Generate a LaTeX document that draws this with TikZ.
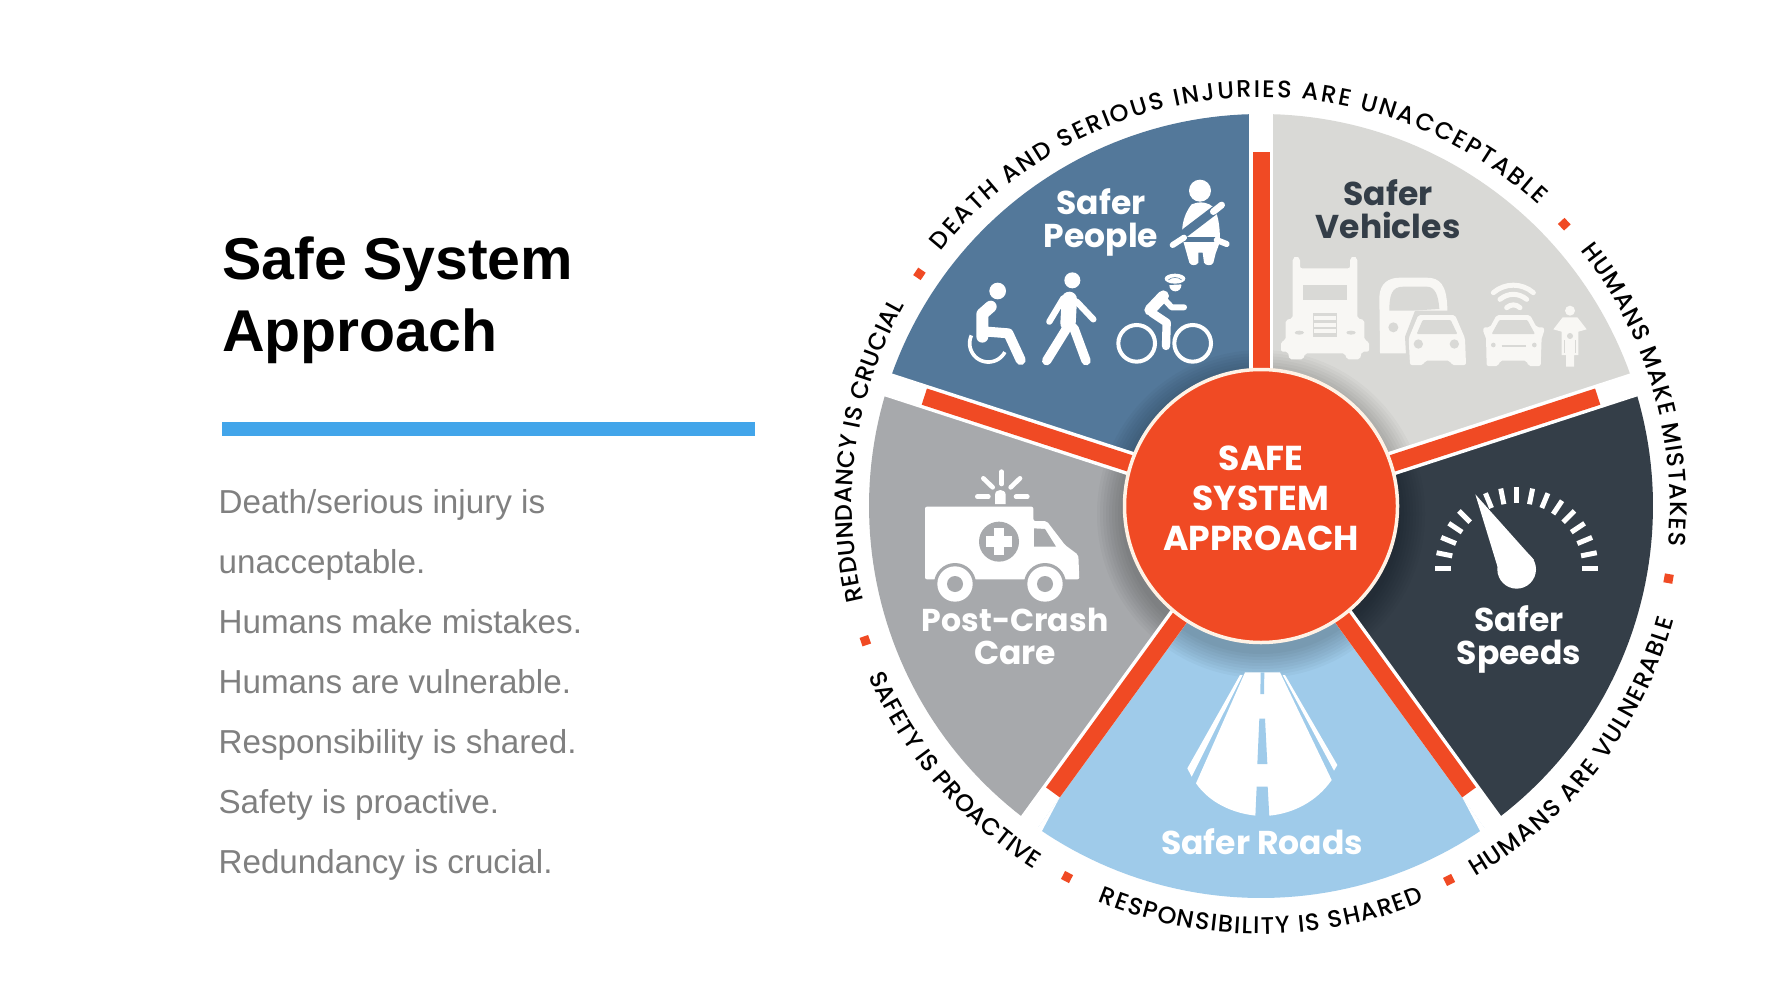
\documentclass[tikz,border=0pt]{standalone}
\usepackage{fontspec}
\setmainfont{Liberation Sans}
\newfontfamily\popb{Poppins}[UprightFont=* Bold]
\newfontfamily\popm{Poppins}[UprightFont=* Medium]
\usetikzlibrary{decorations.text}
\definecolor{cBlue}{HTML}{53789A}
\definecolor{cVeh}{HTML}{D9D9D6}
\definecolor{cGray}{HTML}{A7A9AC}
\definecolor{cDark}{HTML}{343E48}
\definecolor{cRoad}{HTML}{9FCBEA}
\definecolor{cRed}{HTML}{F04A24}
\definecolor{cBar}{HTML}{42A5EA}
\definecolor{cBody}{HTML}{808080}
\definecolor{cIco}{HTML}{F8F7F4}
\tikzset{
  txt/.style={inner sep=0pt,anchor=base},
  title/.style={txt,anchor=base west,font=\bfseries\fontsize{59}{60}\selectfont,text=black},
  bodytxt/.style={txt,anchor=base west,font=\fontsize{33.2}{36}\selectfont,text=cBody},
  seglabel/.style={txt,font=\popb\fontsize{33}{36}\selectfont,text=white},
  hublabel/.style={txt,font=\popb\fontsize{34.6}{36}\selectfont,text=white},
  sqmark/.style={fill=cRed,inner sep=0pt,minimum size=9pt,rectangle},
  ln/.style={line width=#1/3*1pt,line cap=round,line join=round},
  flat/.style={line width=#1/3*1pt,line cap=butt},
}
\newcommand{\sector}[3]{\fill[#1] (0,0) -- plot[domain=#2:#3,samples=50] ({\x}:392) -- cycle;}
\newcommand{\arctext}[4]{\path[decorate,decoration={text along path,text={|\popm\fontsize{24}{25}\selectfont|#4},text align={fit to path}}] plot[domain=#1:#2,samples=90] ({\x}:#3);}
\begin{document}
\begin{tikzpicture}[x=1pt,y=-1pt]
\useasboundingbox (0,0) rectangle (1774,998);
\fill[white] (0,0) rectangle (1774,998);
% left column
\node[title] (t1) at (222,279) {Safe System};
\node[title] (t2) at (222,351) {Approach};
\fill[cBar] (222,422) rectangle (755,436);
\node[bodytxt] (b1) at (218.4,513) {Death/serious injury is};
\node[bodytxt] (b2) at (218.4,573) {unacceptable.};
\node[bodytxt] (b3) at (218.4,633) {Humans make mistakes.};
\node[bodytxt] (b4) at (218.4,693) {Humans are vulnerable.};
\node[bodytxt] (b5) at (218.4,753) {Responsibility is shared.};
\node[bodytxt] (b6) at (218.4,813) {Safety is proactive.};
\node[bodytxt] (b7) at (218.4,873) {Redundancy is crucial.};
% wheel
\begin{scope}[shift={(1261,506)}]
\sector{cBlue}{198}{270}
\sector{cVeh}{270}{342}
\sector{cDark}{-18}{54}
\sector{cRoad}{54}{126}
\sector{cGray}{126}{198}
\foreach \r in {164,161,...,140}{\fill[black,opacity=.028] (0,8) circle[radius=\r];}
% spokes
\foreach \a in {-90,-18,198}{
  \begin{scope}[rotate=-\a]
    \fill[white] (100,-12) rectangle (400,12);
    \fill[cRed] (100,-8.5) rectangle (354,8.5);
  \end{scope}}
\begin{scope}[rotate=-54]
  \fill[white] (100,-12) rectangle (400,8.5);
  \fill[white] (354,8.4) -- (400,15) -- (400,8.4) -- cycle;
  \fill[cRed] (100,-8.5) rectangle (354,8.5);
\end{scope}
\begin{scope}[rotate=-126]
  \fill[white] (100,-8.5) rectangle (400,12);
  \fill[white] (354,-8.4) -- (400,-15) -- (400,-8.4) -- cycle;
  \fill[cRed] (100,-8.5) rectangle (354,8.5);
\end{scope}
% hub
\filldraw[fill=cRed,draw=white!90!orange,line width=3.5pt] (0,0) circle[radius=136.5];
% ring texts
\arctext{218.5}{312.7}{409}{DEATH AND SERIOUS INJURIES ARE UNACCEPTABLE}
\arctext{321.3}{365.6}{409}{HUMANS MAKE MISTAKES}
\arctext{166.6}{209.4}{409}{REDUNDANCY IS CRUCIAL}
\arctext{60}{15.4}{428}{HUMANS ARE VULNERABLE}
\arctext{112.4}{67.5}{428}{RESPONSIBILITY IS SHARED}
\arctext{156.6}{122}{428}{SAFETY IS PROACTIVE}
\node[sqmark,rotate=-214.2] (m1) at (214.2:413) {};
\node[sqmark,rotate=42.9] (m2) at (-42.9:414) {};
\node[sqmark,rotate=-10.1] (m3) at (10.1:414) {};
\node[sqmark,rotate=-63.3] (m4) at (63.3:418.6) {};
\node[sqmark,rotate=-117.6] (m5) at (117.6:418.7) {};
\node[sqmark,rotate=-161.2] (m6) at (161.2:418) {};
\end{scope}
% labels
\node[seglabel] (sp1) at (1101,214) {Safer};
\node[seglabel] (sp2) at (1101,247) {People};
\node[seglabel,text=cDark] (sv1) at (1388,205) {Safer};
\node[seglabel,text=cDark] (sv2) at (1388,238) {Vehicles};
\node[seglabel,font=\popb\fontsize{31.6}{36}\selectfont] (pc1) at (1015,631) {Post-Crash};
\node[seglabel] (pc2) at (1015,664) {Care};
\node[seglabel] (ss1) at (1519,631) {Safer};
\node[seglabel] (ss2) at (1519,664) {Speeds};
\node[seglabel] (sr1) at (1262,854) {Safer Roads};
\node[hublabel] (h1) at (1261,470) {SAFE};
\node[hublabel] (h2) at (1261,510) {SYSTEM};
\node[hublabel] (h3) at (1261,550) {APPROACH};
% people icons
\begin{scope}[shift={(950,170)},scale=1/3]
\fill[white] (750,62) circle[radius=33];
\fill[white] (725,103) .. controls (745,95) and (760,95) .. (778,103) .. controls (805,115) and (810,170) .. (810,215) -- (797,250) -- (790,278) .. controls (788,288) and (765,288) .. (762,278) -- (758,248) -- (745,248) -- (745,278) .. controls (740,288) and (722,288) .. (718,278) -- (703,225) .. controls (690,190) and (695,140) .. (725,103) -- cycle;
\draw[cBlue,flat=26] (690,200) -- (795,120);
\draw[white,ln=20] (790,125) -- (815,105);
\draw[cBlue,flat=16] (700,208) -- (805,208);
\draw[white,ln=18] (668,225) -- (702,203);
\draw[white,ln=18] (800,210) -- (830,222);
% wheelchair
\fill[white] (143,363) circle[radius=25];
\draw[white,ln=36] (122,410) -- (97,432) -- (97,500);
\draw[white,ln=30] (112,485) -- (175,490) -- (212,570);
\draw[white,flat=11] plot[domain=28:205,samples=40] ({115+56*cos(\x)},{520+56*sin(\x)});
% walker
\fill[white] (367,331) circle[radius=24];
\draw[white,ln=46] (358,388) -- (354,460);
\draw[white,ln=19] (340,385) -- (298,455);
\draw[white,ln=19] (380,395) -- (430,448);
\draw[white,ln=28] (350,475) -- (290,572);
\draw[white,ln=28] (372,475) -- (408,572);
% cyclist
\draw[white,flat=12] (560,520) circle[radius=55];
\draw[white,flat=12] (728,520) circle[radius=55];
\fill[white] (676,346) circle[radius=18];
\draw[cBlue,flat=5] (642,343) -- (710,340);
\fill[white] (675,326) ellipse[x radius=31,y radius=15];
\draw[cBlue,line width=.5pt] (655,330) .. controls (665,320) and (685,320) .. (695,330);
\draw[white,ln=34] (640,378) -- (600,420);
\draw[white,ln=18] (640,385) -- (665,412) -- (702,412);
\draw[white,ln=25] (605,428) -- (650,458) -- (648,528);
\end{scope}
% vehicles
\begin{scope}[shift={(1270,240)},scale=1/3]
\fill[cIco,rounded corners=2pt] (68,140) -- (68,55) -- (79,48) -- (90,55) -- (90,85) -- (240,85) -- (240,55) -- (251,48) -- (262,55) -- (262,235) -- (283,240) -- (283,300) -- (297,305) -- (297,335) -- (275,335) -- (270,358) -- (230,358) -- (225,340) -- (105,340) -- (100,358) -- (58,358) -- (54,335) -- (33,335) -- (33,305) -- (47,300) -- (47,240) -- (68,235) -- cycle;
\fill[cVeh] (100,135) rectangle (232,180);
\fill[cVeh] (128,218) rectangle (202,290);
\foreach \y in {228,248,268}{\fill[cIco] (132,\y) rectangle (198,\y+12);}
\fill[cVeh] (88,278) ellipse[x radius=14,y radius=6];
\fill[cVeh] (243,278) ellipse[x radius=14,y radius=6];
% bus
\fill[cIco] (330,340) -- (328,170) .. controls (330,130) and (355,113) .. (390,113) -- (470,113) .. controls (510,113) and (530,135) .. (532,205) -- (532,240) -- (420,340) -- cycle;
\fill[cVeh] (358,212) .. controls (358,165) and (365,140) .. (400,140) -- (470,140) .. controls (495,140) and (505,165) .. (508,207) -- (425,212) -- cycle;
\fill[cVeh] (370,262) circle[radius=15];
% car
\fill[cVeh] (410,380) -- (405,290) -- (435,212) -- (565,212) -- (600,290) -- (600,380) -- cycle;
\fill[cIco,rounded corners=2pt] (420,375) -- (416,295) -- (445,225) -- (555,225) -- (585,295) -- (588,375) -- (545,375) -- (540,362) -- (465,362) -- (460,375) -- cycle;
\fill[cVeh,rounded corners=1pt] (440,282) -- (458,240) -- (542,240) -- (562,282) -- cycle;
\fill[cVeh] (445,312) circle[radius=14];
\fill[cVeh] (553,312) circle[radius=14];
% wifi car
\draw[cIco,ln=15] (670,158) .. controls (705,128) and (755,128) .. (790,158);
\draw[cIco,ln=15] (690,178) .. controls (715,158) and (745,158) .. (770,178);
\draw[cIco,ln=15] (710,203) .. controls (722,192) and (738,192) .. (750,203);
\fill[cIco,rounded corners=2pt] (650,378) -- (648,290) -- (640,280) -- (640,262) -- (660,262) -- (680,225) -- (780,225) -- (800,262) -- (822,262) -- (822,280) -- (815,290) -- (812,378) -- (775,378) -- (770,362) -- (690,362) -- (685,378) -- cycle;
\fill[cVeh,rounded corners=1pt] (665,282) -- (688,240) -- (772,240) -- (795,282) -- cycle;
\fill[cVeh] (670,315) circle[radius=7];
\fill[cVeh] (793,315) circle[radius=7];
\draw[cVeh,flat=5] (695,318) -- (768,318);
% motorcycle
\fill[cIco] (900,212) circle[radius=15];
\fill[cIco] (878,232) -- (922,232) -- (950,268) -- (925,275) -- (925,345) -- (912,345) -- (912,380) -- (888,380) -- (888,345) -- (875,345) -- (875,275) -- (850,268) -- cycle;
\fill[cVeh] (900,288) circle[radius=9];
\draw[cVeh,flat=3] (884,300) -- (884,340);
\draw[cVeh,flat=3] (916,300) -- (916,340);
\end{scope}
% ambulance
\begin{scope}[shift={(820,440)},scale=1/3]
\fill[white,rounded corners=2pt] (315,418) -- (315,200) -- (640,200) -- (640,243) -- (680,243) -- (735,315) -- (775,345) -- (778,418) -- cycle;
\fill[cGray] (642,265) -- (675,267) -- (708,320) -- (642,320) -- cycle;
\fill[cGray] (537,305) circle[radius=60];
\fill[white] (521,265) rectangle (553,345);
\fill[white] (497,289) rectangle (577,321);
\foreach \x in {405,675}{
  \fill[cGray] (\x,432) circle[radius=63];
  \fill[white] (\x,432) circle[radius=53];
  \fill[cGray] (\x,432) circle[radius=24];
}
\fill[white] (525,192) -- (525,165) .. controls (525,145) and (557,145) .. (557,165) -- (557,192) -- cycle;
\draw[white,ln=14] (545,95) -- (545,132);
\draw[white,ln=14] (490,115) -- (518,142);
\draw[white,ln=14] (600,115) -- (572,142);
\draw[white,ln=14] (472,170) -- (505,170);
\draw[white,ln=14] (588,170) -- (622,170);
\end{scope}
% speedometer
\begin{scope}[shift={(1250,440)},scale=1/3]
\foreach \a in {180,168.75,157.5,146.25,135,112.5,101.25,90,78.75,67.5,56.25,45,33.75,22.5,11.25,0}{
  \draw[white,flat=15] ({800+197*cos(\a)},{386-197*sin(\a)}) -- ({800+245*cos(\a)},{386-245*sin(\a)});
}
\fill[white] (800,388) circle[radius=58];
\fill[white] (676,163) -- (744,385) -- (852,360) -- cycle;
\end{scope}
% road
\begin{scope}[shift={(1130,640)},scale=1/3]
\fill[white] (345,97) -- (450,97) -- (605,420) .. controls (560,485) and (490,520) .. (418,527) -- (378,527) .. controls (310,520) and (240,490) .. (198,430) -- cycle;
\fill[cRoad] (392,97) -- (403,97) -- (402,162) -- (391,162) -- cycle;
\fill[cRoad] (388,236) -- (405,236) -- (412,372) -- (382,372) -- cycle;
\fill[cRoad] (380,440) -- (413,440) -- (418,530) -- (376,530) -- cycle;
\fill[white] (330,105) -- (338,105) -- (185,410) -- (172,385) -- cycle;
\fill[white] (458,105) -- (465,105) -- (622,375) -- (612,392) -- cycle;
\end{scope}
\end{tikzpicture}
\end{document}
